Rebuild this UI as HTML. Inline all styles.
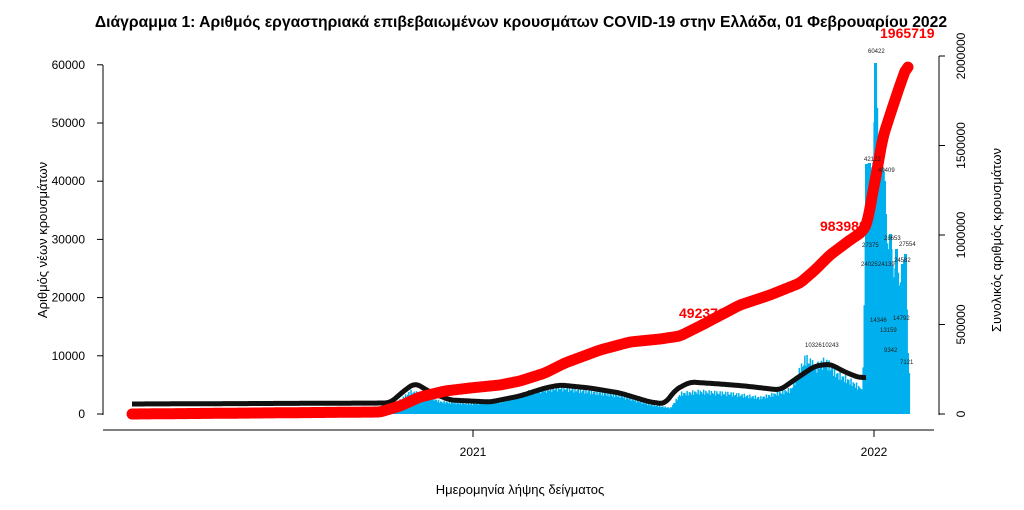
<!DOCTYPE html>
<html><head><meta charset="utf-8"><style>
body{margin:0;background:#fff;}
svg{display:block;font-family:"Liberation Sans",sans-serif;}
</style></head><body>
<svg id="s" width="1024" height="510" viewBox="0 0 1024 510">
<text x="521" y="27" text-anchor="middle" font-size="15.7" font-weight="bold">Διάγραμμα 1: Αριθμός εργαστηριακά επιβεβαιωμένων κρουσμάτων COVID-19 στην Ελλάδα, 01 Φεβρουαρίου 2022</text>
<g id="bars" fill="#00b0ee"></g>
<path id="blk" fill="none" stroke="#111" stroke-width="5" stroke-linejoin="round"/>
<path id="red" fill="none" stroke="#f00" stroke-width="11" stroke-linecap="round" stroke-linejoin="round"/>
<g stroke="#000" stroke-width="1" fill="none">
<line x1="103" y1="65" x2="103" y2="415"/>
<line x1="103" y1="430" x2="934" y2="430"/>
<line x1="473" y1="430" x2="473" y2="437"/>
<line x1="874" y1="430" x2="874" y2="437"/>
<line x1="939" y1="56" x2="939" y2="415"/>
</g>
<g id="lt" font-size="12" text-anchor="end"></g>
<g id="rt" font-size="12"></g>
<text x="473" y="456" text-anchor="middle" font-size="12">2021</text>
<text x="874" y="456" text-anchor="middle" font-size="12">2022</text>
<text x="520" y="494" text-anchor="middle" font-size="13">Ημερομηνία λήψης δείγματος</text>
<text transform="translate(47,240) rotate(-90)" text-anchor="middle" font-size="13">Αριθμός νέων κρουσμάτων</text>
<text transform="translate(1001,240) rotate(-90)" text-anchor="middle" font-size="13">Συνολικός αριθμός κρουσμάτων</text>
<g fill="#f00" font-weight="bold" font-size="14">
<text x="679" y="318">492370</text>
<text x="820" y="231">983988</text>
<text x="880" y="38">1965719</text>
</g>
<g font-size="6" fill="#222">
<text x="868" y="53">60422</text><text x="864" y="161">42122</text><text x="878" y="172">40409</text>
<text x="862" y="247">27375</text><text x="884" y="240">28653</text><text x="899" y="246">27554</text>
<text x="861" y="266">24025</text><text x="878" y="266">24139</text><text x="894" y="262">24582</text>
<text x="870" y="322">14346</text><text x="893" y="320">14792</text><text x="880" y="332">13159</text>
<text x="884" y="352">9342</text><text x="900" y="364">7121</text>
<text x="805" y="347">10326</text><text x="822" y="347">10243</text>
</g>
</svg>
<script>
function interp(pts,x){for(let i=1;i<pts.length;i++){if(x<=pts[i][0]){const a=pts[i-1],b=pts[i];return a[1]+(b[1]-a[1])*(x-a[0])/(b[0]-a[0]);}}return pts[pts.length-1][1];}
function smooth(pts,x0,x1,k){let v=[];for(let x=x0;x<=x1;x+=1)v.push([x,interp(pts,x)]);let o=[];for(let i=0;i<v.length;i++){let s=0,n=0;for(let j=Math.max(0,i-k);j<=Math.min(v.length-1,i+k);j++){s+=v[j][1];n++;}o.push(v[i][0]+','+(s/n).toFixed(1));}return 'M'+o.join('L');}
const bh=[[132,0],[380,0],[395,10],[410,22],[425,18],[440,12],[470,10],[500,12],[530,22],[560,26],[590,22],[620,18],[650,9],[670,6],[680,20],[700,22],[730,20],[760,16],[790,24],[805,55],[815,46],[825,52],[835,40],[850,32],[862,24],[866,250],[869,251],[872,240],[875,351],[878,272],[881,251],[884,240],[887,160],[890,180],[893,135],[896,160],[899,125],[902,150],[905,160],[908,41]];
const g=document.getElementById('bars');let bs='';
for(let x=132;x<909;x+=1.1){let h=interp(bh,x);if(x<860)h*=1+0.12*Math.sin(x*2.3);if(h<0.5)continue;bs+='<rect x="'+x.toFixed(1)+'" y="'+(414-h).toFixed(1)+'" width="1.5" height="'+h.toFixed(1)+'"/>';}
[[865,250],[868,251],[871,240],[874,351],[877,272],[880,230],[883,233],[886,160],[889,180],[892,135],[895,165],[898,125],[901,150],[904,160],[907,41]].forEach(b=>{bs+='<rect x="'+b[0]+'" y="'+(414-b[1])+'" width="3" height="'+b[1]+'"/>';});
g.innerHTML=bs;
const bl=[[132,404],[390,403],[405,390],[415,383],[430,392],[450,400],[490,402],[520,396],[545,388],[560,385],[590,388],[620,393],[650,402],[665,404],[675,390],[690,382],[720,384],[745,386],[780,390],[800,376],[815,366],[830,364],[845,372],[860,378],[866,377]];
document.getElementById('blk').setAttribute('d',smooth(bl,132,866,5));
const rd=[[132,414],[380,412],[400,406],[420,397],[445,391],[470,388],[500,385],[520,381],[545,373],[565,363],[600,350],[630,342],[660,339],[680,336],[700,326],[740,305],[770,295],[800,283],[815,270],[830,255],[850,240],[862,232],[868,222],[872,195],[877,172],[882,140],[890,115],[900,85],[908,63]];
document.getElementById('red').setAttribute('d',smooth(rd,132,908,3));
let lt='',rt='';
for(let i=0;i<=6;i++){const y=414-i*58.2;lt+='<text x="85" y="'+(y+4)+'">'+(i*10000)+'</text><line x1="97" y1="'+y+'" x2="103" y2="'+y+'" stroke="#000"/>';}
document.getElementById('lt').innerHTML=lt;
for(let i=0;i<=4;i++){const y=414-i*89.5;rt+='<line x1="939" y1="'+y+'" x2="945" y2="'+y+'" stroke="#000"/><text transform="translate(965,'+y+') rotate(-90)" text-anchor="middle">'+(i*500000)+'</text>';}
document.getElementById('rt').innerHTML=rt;
</script>
</body></html>
